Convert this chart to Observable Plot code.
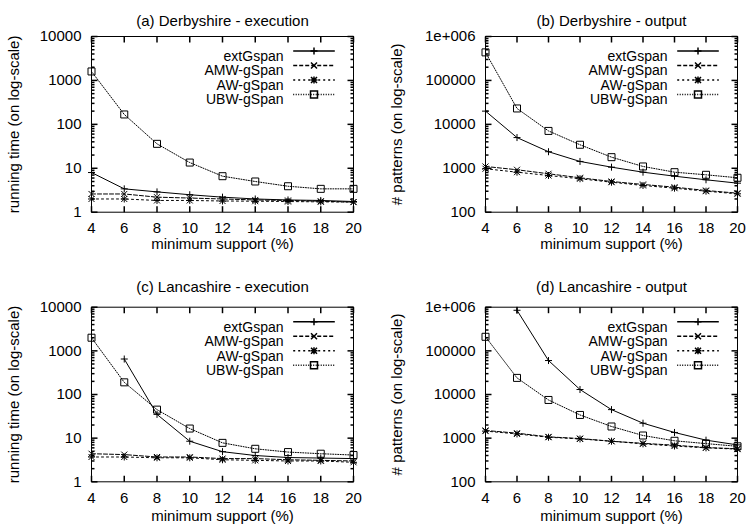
<!DOCTYPE html>
<html>
<head>
<meta charset="utf-8">
<script src="https://cdn.jsdelivr.net/npm/d3@7"></script>
<script src="https://cdn.jsdelivr.net/npm/@observablehq/plot@0.6"></script>
<style>
html, body { margin: 0; padding: 0; background: #fff; }
#root { position: relative; width: 747px; height: 527px; overflow: hidden; background: #fff; }
.panel { position: absolute; }
</style>
</head>
<body>
<div id="root"></div>
<script>
// ---------- data ----------
const support = [4, 6, 8, 10, 12, 14, 16, 18, 20];
const seriesNames = ["extGspan", "AMW-gSpan", "AW-gSpan", "UBW-gSpan"];

const titleA = "(a) Derbyshire - execution";
const titleB = "(b) Derbyshire - output";
const titleC = "(c) Lancashire - execution";
const titleD = "(d) Lancashire - output";
const xLabel = "minimum support (%)";
const yLabelTime = "running time (on log-scale)";
const yLabelPatterns = "# patterns (on log-scale)";

const timeTicks = [1, 10, 100, 1000, 10000];
const timeTickLabels = ["1", "10", "100", "1000", "10000"];
const patternTicks = [100, 1000, 10000, 100000, 1000000];
const patternTickLabels = ["100", "1000", "10000", "100000", "1e+006"];

// (a) Derbyshire - execution (running time)
const derbyTimeExt = [8, 3.4, 2.9, 2.5, 2.2, 2.0, 1.9, 1.85, 1.75];
const derbyTimeAMW = [2.6, 2.6, 2.2, 2.1, 2.0, 1.9, 1.85, 1.78, 1.7];
const derbyTimeAW  = [2.0, 2.0, 1.85, 1.85, 1.8, 1.78, 1.75, 1.72, 1.7];
const derbyTimeUBW = [1600, 168, 36, 13.5, 6.6, 5.0, 3.9, 3.4, 3.4];

// (b) Derbyshire - output (# patterns)
const derbyOutExt = [20000, 5000, 2380, 1430, 1060, 815, 661, 547, 458];
const derbyOutAMW = [1100, 925, 750, 608, 500, 428, 371, 312, 271];
const derbyOutAW  = [975, 815, 685, 577, 482, 406, 352, 301, 262];
const derbyOutUBW = [435000, 23000, 7080, 3430, 1790, 1100, 815, 710, 608];

// (c) Lancashire - execution (running time)
const lancTimeExt = [null, 650, 35, 8.5, 4.9, 4.0, 3.6, 3.5, 3.4];
const lancTimeAMW = [4.4, 4.2, 3.7, 3.7, 3.4, 3.4, 3.2, 3.1, 3.0];
const lancTimeAW  = [3.7, 3.7, 3.55, 3.55, 3.2, 3.1, 3.0, 3.0, 2.8];
const lancTimeUBW = [2000, 190, 45, 16.6, 7.8, 5.7, 4.8, 4.4, 4.1];

// (d) Lancashire - output (# patterns)
const lancOutExt = [null, 850000, 60000, 13000, 4500, 2200, 1350, 900, 700];
const lancOutAMW = [1500, 1300, 1070, 980, 850, 760, 690, 610, 570];
const lancOutAW  = [1450, 1250, 1050, 960, 850, 740, 660, 600, 560];
const lancOutUBW = [210000, 24000, 7500, 3400, 1850, 1150, 870, 750, 650];

// ---------- styles ----------
const FONT = "'Liberation Sans', Arial, Helvetica, sans-serif";
const seriesDash = [null, "4,2", "2,3", "1,1.5"];

const symPlus = {draw(c) { c.moveTo(-3.5, 0); c.lineTo(3.5, 0); c.moveTo(0, -3.5); c.lineTo(0, 3.5); }};
const symTimes = {draw(c) { c.moveTo(-3, -3); c.lineTo(3, 3); c.moveTo(-3, 3); c.lineTo(3, -3); }};
const symStar = {draw(c) {
  c.moveTo(-3.5, 0); c.lineTo(3.5, 0); c.moveTo(0, -3.5); c.lineTo(0, 3.5);
  c.moveTo(-3, -3); c.lineTo(3, 3); c.moveTo(-3, 3); c.lineTo(3, -3);
}};
const symSquare = {draw(c) { c.rect(-3.5, -3.5, 7, 7); }};
const seriesSymbols = [symPlus, symTimes, symStar, symSquare];
const symLegendLine = {draw(c) { c.moveTo(-20.8, 0); c.lineTo(20.8, 0); }};

const tickSym = (dxv, dyv) => ({draw(c) { c.moveTo(0, 0); c.lineTo(dxv, dyv); }});
const MAJ = 6, MIN = 3;
const LEG_STEP = 14.5;

function makePanel(cfg) {
  const {title, ylabel, yTicks, yTickLabels, series, width, height, margins,
         titleDy, xlabelDy, ylabelDx} = cfg;
  const rows = [];
  series.forEach((vals, si) => {
    vals.forEach((v, i) => {
      if (v != null) rows.push({series: seriesNames[si], s: si, x: support[i], y: v});
    });
  });
  const yMin = yTicks[0], yMax = yTicks[yTicks.length - 1];
  const xMin = support[0], xMax = support[support.length - 1];
  const minorTicks = [];
  for (let d = 0; d < yTicks.length - 1; d++)
    for (let k = 2; k <= 9; k++) minorTicks.push(yTicks[d] * k);

  const marks = [
    Plot.axisX(support, {anchor: "bottom", tickSize: 0, tickPadding: 10.5, label: null, fontSize: 15}),
    Plot.axisY(yTicks, {anchor: "left", tickSize: 0, tickPadding: 10, label: null, fontSize: 15,
      tickFormat: d => yTickLabels[yTicks.indexOf(d)]}),
    // inward ticks
    Plot.dot(support, {x: d => d, y: () => yMin, symbol: tickSym(0, -MAJ), stroke: "black", fill: "none"}),
    Plot.dot(support, {x: d => d, y: () => yMax, symbol: tickSym(0, MAJ), stroke: "black", fill: "none"}),
    Plot.dot(yTicks, {x: () => xMin, y: d => d, symbol: tickSym(MAJ, 0), stroke: "black", fill: "none"}),
    Plot.dot(yTicks, {x: () => xMax, y: d => d, symbol: tickSym(-MAJ, 0), stroke: "black", fill: "none"}),
    Plot.dot(minorTicks, {x: () => xMin, y: d => d, symbol: tickSym(MIN, 0), stroke: "black", fill: "none"}),
    Plot.dot(minorTicks, {x: () => xMax, y: d => d, symbol: tickSym(-MIN, 0), stroke: "black", fill: "none"}),
    Plot.frame({stroke: "black"}),
  ];
  seriesNames.forEach((name, si) => {
    const data = rows.filter(r => r.s === si);
    marks.push(Plot.line(data, {x: "x", y: "y", stroke: "black", strokeWidth: 1,
      strokeDasharray: seriesDash[si]}));
    marks.push(Plot.dot(data, {x: "x", y: "y", symbol: seriesSymbols[si], stroke: "black",
      fill: "none", strokeWidth: 1}));
    // legend
    const dy = LEG_STEP * (si + 1);
    marks.push(Plot.text([name], {frameAnchor: "top-right", textAnchor: "end", dx: -70, dy, fontSize: 14}));
    marks.push(Plot.dot([name], {frameAnchor: "top-right", dx: -39.5, dy, symbol: symLegendLine,
      stroke: "black", fill: "none", strokeDasharray: seriesDash[si]}));
    marks.push(Plot.dot([name], {frameAnchor: "top-right", dx: -39.5, dy, symbol: seriesSymbols[si],
      stroke: "black", fill: "none"}));
  });
  marks.push(Plot.text([title], {frameAnchor: "top", dy: titleDy, fontSize: 15}));
  marks.push(Plot.text([xLabel], {frameAnchor: "bottom", dy: xlabelDy, fontSize: 15}));
  marks.push(Plot.text([ylabel], {frameAnchor: "left", textAnchor: "middle", rotate: -90, dx: ylabelDx, fontSize: 15}));

  return Plot.plot({
    width, height,
    marginTop: margins[0], marginRight: margins[1], marginBottom: margins[2], marginLeft: margins[3],
    style: {fontFamily: FONT, fontSize: "15px", background: "transparent", color: "black", overflow: "visible"},
    x: {domain: [xMin, xMax]},
    y: {type: "log", domain: [yMin, yMax]},
    marks
  });
}

const root = document.getElementById("root");
const panels = [
  {left: 0, top: 0, title: titleA, ylabel: yLabelTime, yTicks: timeTicks, yTickLabels: timeTickLabels,
   series: [derbyTimeExt, derbyTimeAMW, derbyTimeAW, derbyTimeUBW],
   width: 374, height: 264, margins: [36, 21, 52.3, 91], titleDy: -21.5, xlabelDy: 36.5, ylabelDx: -77.7},
  {left: 374, top: 0, title: titleB, ylabel: yLabelPatterns, yTicks: patternTicks, yTickLabels: patternTickLabels,
   series: [derbyOutExt, derbyOutAMW, derbyOutAW, derbyOutUBW],
   width: 373, height: 264, margins: [36, 10, 52.3, 111], titleDy: -21.5, xlabelDy: 36.5, ylabelDx: -88.5},
  {left: 0, top: 264, title: titleC, ylabel: yLabelTime, yTicks: timeTicks, yTickLabels: timeTickLabels,
   series: [lancTimeExt, lancTimeAMW, lancTimeAW, lancTimeUBW],
   width: 374, height: 263, margins: [42.7, 21, 45.7, 91], titleDy: -25.7, xlabelDy: 39, ylabelDx: -77.7},
  {left: 374, top: 264, title: titleD, ylabel: yLabelPatterns, yTicks: patternTicks, yTickLabels: patternTickLabels,
   series: [lancOutExt, lancOutAMW, lancOutAW, lancOutUBW],
   width: 373, height: 263, margins: [42.7, 10, 45.7, 111], titleDy: -25.7, xlabelDy: 39, ylabelDx: -88.5},
];
for (const p of panels) {
  const div = document.createElement("div");
  div.className = "panel";
  div.style.left = p.left + "px";
  div.style.top = p.top + "px";
  div.appendChild(makePanel(p));
  root.appendChild(div);
}
</script>
</body>
</html>
